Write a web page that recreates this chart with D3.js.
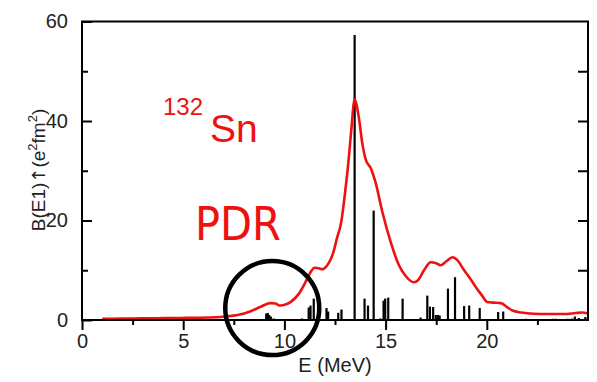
<!DOCTYPE html>
<html>
<head>
<meta charset="utf-8">
<script src="https://cdn.jsdelivr.net/npm/d3@7"></script>
<style>
  html, body { margin: 0; padding: 0; background: #fff; }
  svg { display: block; }
  text { font-family: "Liberation Sans", Arial, Helvetica, sans-serif; }
</style>
</head>
<body>
<svg id="chart" width="597" height="382"></svg>
<script>
// ---- data ----
const barEnergies = [8.73, 9.10, 9.18, 9.25, 9.33, 9.47, 9.64, 10.05, 10.54, 10.87,
  11.20, 11.29, 11.45, 12.08, 12.16, 12.55, 12.66, 12.82, 13.47, 13.96, 14.13, 14.41,
  14.74, 14.90, 14.98, 15.13, 15.84, 16.73, 17.06, 17.19, 17.35, 17.48, 17.59, 17.67,
  18.08, 18.43, 18.88, 19.13, 19.65, 20.56, 20.81, 21.19, 21.93, 22.51, 23.25, 23.41,
  23.99, 24.20, 24.35, 24.55, 24.87];
const barValues = [0.2, 1.3, 1.4, 1.0, 0.7, 0.3, 0.2, 0.2, 0.2, 0.3,
  2.5, 2.9, 4.3, 2.4, 1.7, 0.2, 1.45, 2.1, 57.3, 4.3, 2.9, 22.0,
  0.3, 3.9, 4.3, 4.5, 4.3, 0.5, 4.9, 2.7, 2.6, 1.0, 1.0, 0.9,
  6.3, 8.6, 2.8, 2.9, 2.4, 1.6, 1.7, 0.2, 0.25, 0.15, 0.25, 0.25,
  0.25, 0.3, 0.7, 0.4, 0.6];

const curveEnergies = [1.0, 2.0, 3.0, 3.7, 4.5, 5.2, 5.7, 6.3, 6.83, 7.33, 7.8, 8.3, 8.8,
  9.3, 9.55, 9.8, 10.05, 10.3, 10.7, 11.04, 11.29, 11.5, 11.7, 11.87, 12.1, 12.3, 12.44,
  12.6, 12.8, 13.0, 13.18, 13.3, 13.47, 13.68, 13.85, 14.0, 14.29, 14.5, 14.84, 15.25,
  15.66, 16.0, 16.4, 16.6, 16.9, 17.23, 17.5, 17.72, 18.0, 18.3, 18.5, 18.88, 19.2, 19.46,
  19.75, 20.03, 20.3, 20.7, 21.0, 21.27, 21.7, 22.3, 23.0, 23.8, 24.4, 24.7, 25.0];
const curveValues = [0.25, 0.28, 0.32, 0.35, 0.4, 0.42, 0.45, 0.5, 0.6, 0.8, 1.1, 1.7, 2.6,
  3.4, 3.3, 2.9, 3.1, 3.6, 5.2, 7.6, 9.6, 10.5, 10.4, 10.2, 10.9, 12.3, 13.9,
  16.5, 19.5, 25.7, 32.5, 38.0, 44.3, 40.6, 35.5, 32.5, 30.3, 27.7, 21.7, 15.7,
  11.0, 8.8, 7.6, 8.0, 10.0, 11.6, 11.4, 11.0, 11.8, 12.6, 12.2, 10.0, 8.2, 6.6,
  5.0, 3.6, 3.5, 3.4, 2.6, 1.9, 1.5, 1.25, 1.2, 1.2, 1.4, 1.5, 1.3];

const xMajorTicks = [0, 5, 10, 15, 20];
const xMinorTicks = [2.5, 7.5, 12.5, 17.5, 22.5];
const yMajorTicks = [0, 20, 40, 60];
const yMinorTicks = [10, 30, 50];
const yRightTicks = [10, 20, 30, 40, 50];
const xTitle = "E (MeV)";
const nucleusMass = "132";
const nucleusSymbol = "Sn";
const annotationText = "PDR";
const circleCenter = [9.4, 2.4];

// ---- drawing ----
const svg = d3.select("#chart");
svg.append("rect").attr("width", 597).attr("height", 382).attr("fill", "#fff");

const x = d3.scaleLinear().domain([0, 25]).range([82, 588]);
const y = d3.scaleLinear().domain([0, 60]).range([320, 21.5]);

const red = "#ee1111";

// bars
const bars = barEnergies.map((e, i) => ({e, v: barValues[i]}));
svg.append("g").selectAll("line").data(bars).join("line")
  .attr("x1", d => x(d.e)).attr("x2", d => x(d.e))
  .attr("y1", y(0)).attr("y2", d => y(d.v))
  .attr("stroke", "#000").attr("stroke-width", 2.2);

// curve
const pts = curveEnergies.map((e, i) => [e, curveValues[i]]);
svg.append("path")
  .attr("d", d3.line().x(d => x(d[0])).y(d => y(d[1])).curve(d3.curveMonotoneX)(pts))
  .attr("fill", "none").attr("stroke", red).attr("stroke-width", 2.6)
  .attr("stroke-linejoin", "round");

// frame / axes
const axisW = 2;
const gl = svg.append("g").attr("transform", `translate(${x(0)},0)`);
gl.call(d3.axisLeft(y).tickValues(yMajorTicks).tickSizeInner(-10).tickSizeOuter(0).tickPadding(14).tickFormat(d3.format("d")));
gl.append("g").call(d3.axisLeft(y).tickValues(yMinorTicks).tickSizeInner(-6).tickSizeOuter(0).tickFormat(""));
gl.selectAll(".domain").remove();
gl.selectAll(".tick line").attr("stroke", "#000").attr("stroke-width", axisW);
gl.selectAll(".tick text").attr("font-size", 20).attr("fill", "#222")
  .style("font-family", "'Liberation Sans', Arial, sans-serif");

const gb = svg.append("g").attr("transform", `translate(0,${y(0)})`);
gb.call(d3.axisBottom(x).tickValues(xMajorTicks).tickSizeInner(10).tickSizeOuter(0).tickPadding(4).tickFormat(d3.format("d")));
gb.append("g").call(d3.axisBottom(x).tickValues(xMinorTicks).tickSizeInner(5).tickSizeOuter(0).tickFormat(""));
gb.selectAll(".domain").remove();
gb.selectAll(".tick line").attr("stroke", "#000").attr("stroke-width", axisW);
gb.selectAll(".tick text").attr("font-size", 20).attr("fill", "#222")
  .style("font-family", "'Liberation Sans', Arial, sans-serif");

const gr = svg.append("g").attr("transform", `translate(${x(25)},0)`);
gr.call(d3.axisRight(y).tickValues(yRightTicks).tickSizeInner(-10).tickSizeOuter(0).tickFormat(""));
gr.selectAll(".domain").remove();
gr.selectAll(".tick line").attr("stroke", "#000").attr("stroke-width", axisW);

svg.append("rect")
  .attr("x", x(0)).attr("y", y(60))
  .attr("width", x(25) - x(0)).attr("height", y(0) - y(60))
  .attr("fill", "none").attr("stroke", "#000").attr("stroke-width", axisW);

// axis titles
svg.append("text").attr("x", (x(0) + x(25)) / 2).attr("y", 372)
  .attr("text-anchor", "middle").attr("font-size", 20).attr("fill", "#222").text(xTitle);

const yt = svg.append("text")
  .attr("transform", "translate(45,170) rotate(-90)")
  .attr("text-anchor", "middle").attr("font-size", 19).attr("fill", "#222");
yt.append("tspan").text("B(E1)");
yt.append("tspan").style("font-family", "'DejaVu Sans', sans-serif").attr("font-size", 18).text("\u2191");
yt.append("tspan").text("(e");
yt.append("tspan").attr("font-size", 13).attr("dy", -8).text("2");
yt.append("tspan").attr("dy", 8).text("fm");
yt.append("tspan").attr("font-size", 13).attr("dy", -8).text("2");
yt.append("tspan").attr("dy", 8).text(")");

// nucleus label
svg.append("text").attr("x", 163).attr("y", 115).attr("fill", red)
  .attr("font-size", 24).text(nucleusMass);
svg.append("text").attr("x", 210).attr("y", 142).attr("fill", red)
  .attr("font-size", 39).text(nucleusSymbol);

// PDR label
svg.append("text").attr("x", 195).attr("y", 240).attr("fill", red)
  .attr("font-size", 47).attr("textLength", 86).attr("lengthAdjust", "spacingAndGlyphs")
  .style("font-family", "'DejaVu Sans', sans-serif")
  .text(annotationText);

// circle annotation
svg.append("circle")
  .attr("cx", x(circleCenter[0])).attr("cy", y(circleCenter[1]))
  .attr("r", 47)
  .attr("fill", "none").attr("stroke", "#000").attr("stroke-width", 4.5);
</script>
</body>
</html>
